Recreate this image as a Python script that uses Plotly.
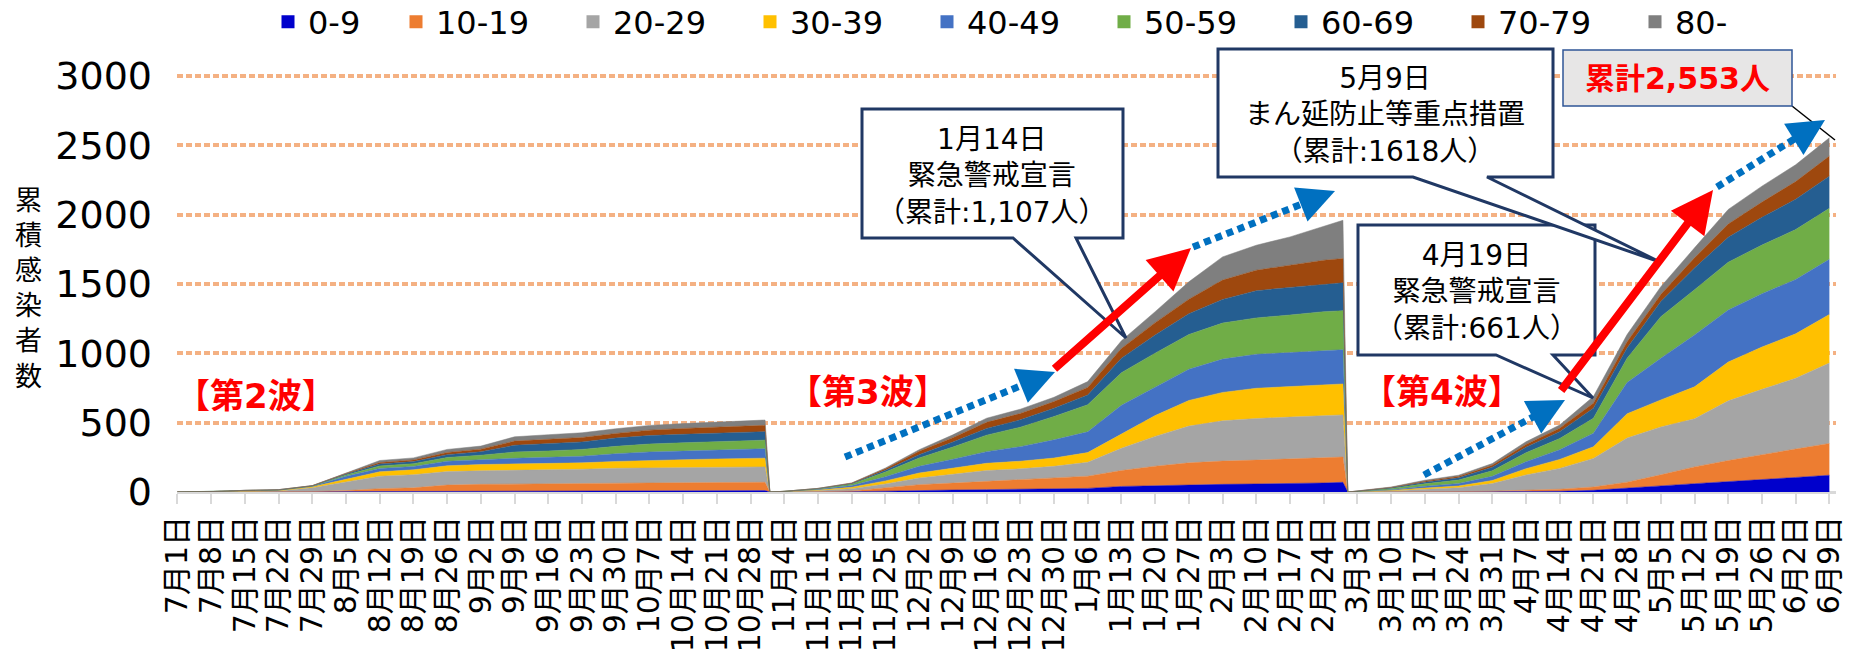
import math

import pandas as pd
import plotly.graph_objects as go

AGE_GROUPS = ["0-9", "10-19", "20-29", "30-39", "40-49", "50-59", "60-69", "70-79", "80-"]
COLORS = ["#0000CC", "#ED7D31", "#A5A5A5", "#FFC000", "#4472C4",
          "#70AD47", "#255E91", "#9E480E", "#7F7F7F"]

# sample days: 2nd wave (19), 3rd wave (19), 4th wave (16)
DATES = [
    "2020-07-01", "2020-07-08", "2020-07-15", "2020-07-22", "2020-07-29", "2020-08-05",
    "2020-08-12", "2020-08-19", "2020-08-26", "2020-09-02", "2020-09-09", "2020-09-16",
    "2020-09-23", "2020-09-30", "2020-10-07", "2020-10-14", "2020-10-21", "2020-10-28",
    "2020-10-31",
    "2020-11-01", "2020-11-04", "2020-11-11", "2020-11-18", "2020-11-25", "2020-12-02",
    "2020-12-09", "2020-12-16", "2020-12-23", "2020-12-30", "2021-01-06", "2021-01-13",
    "2021-01-20", "2021-01-27", "2021-02-03", "2021-02-10", "2021-02-17", "2021-02-24",
    "2021-02-28",
    "2021-03-01", "2021-03-03", "2021-03-10", "2021-03-17", "2021-03-24", "2021-03-31",
    "2021-04-07", "2021-04-14", "2021-04-21", "2021-04-28", "2021-05-05", "2021-05-12",
    "2021-05-19", "2021-05-26", "2021-06-02", "2021-06-09",
]

# cumulative cases per age group
AGE_0_9 = [0, 0, 0, 0, 0, 0, 0, 0, 4, 5, 6, 7, 8, 8, 9, 9, 10, 10, 10,
           0, 0, 0, 2, 6, 12, 14, 17, 19, 22, 26, 40, 46, 50, 55, 58, 60, 65, 70,
           0, 0, 0, 0, 0, 1, 3, 5, 12, 26, 44, 60, 77, 90, 105, 121]
AGE_10_19 = [0, 0, 0, 0, 3, 10, 24, 30, 46, 50, 50, 51, 52, 55, 56, 58, 59, 60, 60,
             0, 0, 2, 6, 22, 41, 50, 60, 68, 79, 88, 115, 140, 160, 168, 172, 177, 180, 182,
             0, 0, 1, 2, 3, 5, 10, 15, 24, 45, 80, 121, 150, 180, 205, 229]
AGE_20_29 = [0, 2, 6, 8, 28, 62, 90, 95, 97, 98, 100, 101, 104, 108, 108, 108, 109, 110, 111,
             0, 2, 8, 16, 30, 48, 62, 78, 80, 84, 100, 160, 215, 265, 290, 300, 303, 304, 304,
             0, 1, 7, 18, 28, 55, 110, 150, 206, 318, 345, 347, 430, 470, 510, 580]
AGE_30_39 = [0, 1, 2, 3, 6, 22, 32, 35, 42, 45, 45, 45, 46, 49, 56, 58, 60, 62, 63,
             0, 1, 4, 10, 22, 36, 44, 52, 55, 60, 70, 105, 150, 185, 205, 218, 220, 223, 223,
             0, 1, 3, 8, 12, 22, 45, 65, 84, 175, 195, 230, 280, 305, 320, 350]
AGE_40_49 = [0, 0, 2, 3, 4, 19, 24, 24, 33, 36, 42, 46, 48, 56, 60, 62, 65, 67, 68,
             0, 1, 5, 12, 30, 48, 66, 84, 105, 131, 150, 205, 205, 225, 240, 245, 245, 247, 247,
             0, 1, 6, 13, 18, 30, 50, 70, 97, 225, 300, 374, 375, 385, 392, 398]
AGE_50_59 = [0, 0, 1, 1, 2, 10, 18, 20, 27, 31, 45, 46, 49, 53, 57, 60, 61, 62, 62,
             0, 1, 4, 11, 34, 60, 88, 119, 140, 168, 195, 235, 245, 250, 260, 262, 271, 281, 281,
             0, 2, 8, 18, 25, 40, 65, 80, 108, 175, 300, 326, 345, 350, 360, 367]
AGE_60_69 = [0, 0, 1, 1, 2, 7, 14, 15, 20, 25, 49, 52, 54, 60, 61, 61, 61, 61, 61,
             0, 0, 2, 4, 12, 24, 36, 48, 53, 60, 70, 105, 130, 150, 170, 196, 199, 199, 201,
             0, 1, 5, 12, 16, 25, 40, 50, 73, 74, 110, 157, 180, 200, 218, 232]
AGE_70_79 = [0, 0, 0, 1, 1, 4, 10, 12, 16, 19, 30, 31, 32, 33, 39, 42, 44, 45, 46,
             0, 0, 1, 3, 11, 24, 32, 44, 46, 48, 55, 70, 90, 105, 140, 148, 160, 172, 175,
             0, 1, 3, 7, 10, 14, 20, 25, 36, 45, 50, 73, 95, 110, 128, 145]
AGE_80 = [0, 0, 0, 0, 0, 4, 15, 15, 22, 22, 31, 34, 34, 34, 34, 35, 36, 37, 38,
          0, 0, 0, 1, 6, 12, 20, 30, 31, 31, 42, 55, 79, 125, 167, 180, 204, 245, 276,
          0, 0, 3, 7, 9, 13, 19, 23, 48, 52, 56, 72, 105, 115, 121, 131]
SERIES = [AGE_0_9, AGE_10_19, AGE_20_29, AGE_30_39, AGE_40_49,
          AGE_50_59, AGE_60_69, AGE_70_79, AGE_80]

TICK_LABELS = [
    "7月1日", "7月8日", "7月15日", "7月22日", "7月29日", "8月5日", "8月12日", "8月19日",
    "8月26日", "9月2日", "9月9日", "9月16日", "9月23日", "9月30日", "10月7日", "10月14日",
    "10月21日", "10月28日", "11月4日", "11月11日", "11月18日", "11月25日", "12月2日",
    "12月9日", "12月16日", "12月23日", "12月30日", "1月6日", "1月13日", "1月20日", "1月27日",
    "2月3日", "2月10日", "2月17日", "2月24日", "3月3日", "3月10日", "3月17日", "3月24日",
    "3月31日", "4月7日", "4月14日", "4月21日", "4月28日", "5月5日", "5月12日", "5月19日",
    "5月26日", "6月2日", "6月9日",
]
TICK_DATES = pd.date_range("2020-07-01", "2021-06-09", freq="7D")

FONT = "DejaVu Sans, Noto Sans CJK JP"
NAVY = "#203864"
BLUE = "#0070C0"
RED = "#FF0000"

W, H = 1854, 664
L, R, T, B = 177, 1836, 62, 492


def xp(px):
    return (px - L) / (R - L)


def yp(py):
    return (B - py) / (B - T)


fig = go.Figure()

for i, (name, color, vals) in enumerate(zip(AGE_GROUPS, COLORS, SERIES)):
    fig.add_trace(go.Scatter(
        x=DATES, y=vals, stackgroup="age", mode="lines",
        line={"width": 0.5, "color": color}, fillcolor=color,
        showlegend=False, hoverinfo="skip",
    ))
    # legend entry: small square swatch
    fig.add_trace(go.Scatter(
        x=[None], y=[None], mode="markers", name=name,
        legend="legend" if i == 0 else "legend2",
        marker={"symbol": "square", "size": 13, "color": color},
    ))

shapes = []
annotations = []


def callout(x0, y0, x1, y1, b0, b1, tx, ty):
    pts = [(x0, y0), (x1, y0), (x1, y1), (b1, y1), (tx, ty), (b0, y1), (x0, y1)]
    path = "M " + " L ".join(f"{xp(x):.5f},{yp(y):.5f}" for x, y in pts) + " Z"
    shapes.append({"type": "path", "xref": "paper", "yref": "paper", "path": path,
                   "fillcolor": "white", "line": {"color": NAVY, "width": 3},
                   "layer": "above"})


def arrow_head(x0, y0, x1, y1, color, width, size):
    n = math.hypot(x1 - x0, y1 - y0)
    dx, dy = (x1 - x0) / n, (y1 - y0) / n
    hl = 5 * width * size / 2
    annotations.append({"x": xp(x1), "y": yp(y1), "xref": "paper", "yref": "paper",
                        "ax": -dx * hl, "ay": -dy * hl, "text": "", "showarrow": True,
                        "arrowhead": 2, "arrowwidth": width, "arrowsize": size,
                        "arrowcolor": color})
    return x1 - dx * hl, y1 - dy * hl


def dotted_arrow(x0, y0, x1, y1):
    ex, ey = arrow_head(x0, y0, x1, y1, BLUE, 7, 1.05)
    shapes.append({"type": "line", "xref": "paper", "yref": "paper",
                   "x0": xp(x0), "y0": yp(y0), "x1": xp(ex), "y1": yp(ey),
                   "line": {"color": BLUE, "width": 7, "dash": "7px,5px"},
                   "layer": "above"})


def red_arrow(x0, y0, x1, y1):
    annotations.append({"x": xp(x1), "y": yp(y1), "xref": "paper", "yref": "paper",
                        "ax": x0 - x1, "ay": y0 - y1, "text": "", "showarrow": True,
                        "arrowhead": 2, "arrowwidth": 8, "arrowsize": 1.05,
                        "arrowcolor": RED})


# 3rd wave arrows
dotted_arrow(845, 457, 1055, 372)
red_arrow(1053, 370, 1191, 248)
dotted_arrow(1193, 247, 1335, 191)
# 4th wave arrows
dotted_arrow(1424, 475, 1565, 400)
red_arrow(1560, 392, 1713, 190)
dotted_arrow(1717, 187, 1825, 120)

# callouts
callout(862, 109, 1123, 238, 1013, 1076, 1126, 338)
callout(1358, 225, 1595, 355, 1496, 1553, 1593, 398)
callout(1218, 49, 1553, 177, 1413, 1487, 1660, 262)

# total box
shapes.append({"type": "line", "xref": "paper", "yref": "paper",
               "x0": xp(1792), "y0": yp(106), "x1": xp(1835), "y1": yp(140),
               "line": {"color": "black", "width": 1.5}, "layer": "above"})
shapes.append({"type": "rect", "xref": "paper", "yref": "paper",
               "x0": xp(1563), "y0": yp(50), "x1": xp(1792), "y1": yp(106),
               "fillcolor": "#E7E6E6", "line": {"color": "#2F5597", "width": 1.5},
               "layer": "above"})


def text(px, py, s, size=28, color="black"):
    annotations.append({"x": xp(px), "y": yp(py), "xref": "paper", "yref": "paper",
                        "text": s, "showarrow": False, "xanchor": "center",
                        "yanchor": "middle",
                        "font": {"family": FONT, "size": size, "color": color}})


text(992, 176, "1月14日<br>緊急警戒宣言<br>（累計:1,107人）")
text(1476, 292, "4月19日<br>緊急警戒宣言<br>（累計:661人）")
text(1385, 115, "5月9日<br>まん延防止等重点措置<br>（累計:1618人）")
text(1677, 78, "<b>累計2,553人</b>", 30, RED)
text(256, 396, "<b>【第2波】</b>", 34, RED)
text(868, 392, "<b>【第3波】</b>", 34, RED)
text(1442, 392, "<b>【第4波】</b>", 34, RED)
text(28, 288, "累<br>積<br>感<br>染<br>者<br>数", 27)

legend_common = {"orientation": "h", "xref": "container", "yref": "container",
                 "y": 1 - 22 / H, "xanchor": "left", "yanchor": "middle",
                 "traceorder": "normal", "bgcolor": "rgba(0,0,0,0)",
                 "font": {"family": FONT, "size": 32, "color": "black"}}

fig.update_layout(
    width=W, height=H,
    margin={"l": L, "r": W - R, "t": T, "b": H - B, "autoexpand": False},
    paper_bgcolor="white", plot_bgcolor="white",
    font={"family": FONT, "color": "black"},
    showlegend=True,
    legend={**legend_common, "x": 268 / W},
    legend2={**legend_common, "x": 396 / W, "entrywidth": 132,
             "entrywidthmode": "pixels"},
    shapes=shapes,
    annotations=annotations,
)
fig.update_xaxes(
    type="date", range=["2020-06-30 21:36", "2021-06-10 09:00"],
    tickmode="array", tickvals=TICK_DATES, ticktext=TICK_LABELS, tickangle=-90,
    tickfont={"family": FONT, "size": 30, "color": "black"},
    ticks="outside", ticklen=10, tickwidth=1.5, tickcolor="#D9D9D9",
    showline=True, linecolor="#D9D9D9", linewidth=2,
    showgrid=False, zeroline=False, automargin=False,
)
fig.update_yaxes(
    range=[0, 3100], tick0=0, dtick=500,
    tickfont={"family": FONT, "size": 38, "color": "black"},
    showgrid=True, gridcolor="#F4B183", gridwidth=4, griddash="6px,3px",
    zeroline=True, zerolinecolor="#D9D9D9", zerolinewidth=2,
    showline=False, ticks="", ticklabelstandoff=24, automargin=False,
)

fig.write_html("out.html", config={"displayModeBar": False},
               post_script="document.body.style.margin='0';")
